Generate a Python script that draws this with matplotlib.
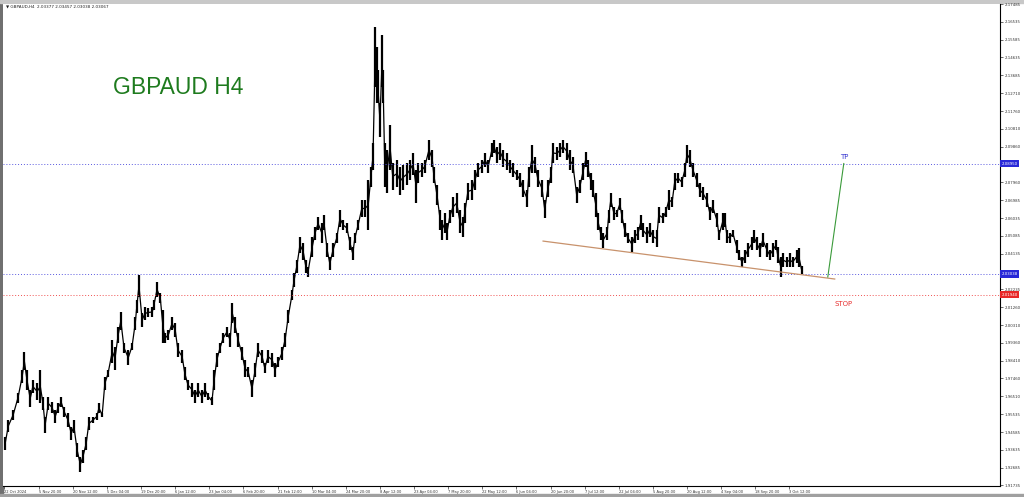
# GBPAUD H4 - MetaTrader style bar chart with trend line, TP and STOP levels
import matplotlib.pyplot as plt
from matplotlib.patches import Rectangle
import numpy as np

symbol = "GBPAUD H4"
header = "\u25bc GBPAUD,H4  2.03377 2.03457 2.03038 2.03067"

# H4 bar index of each sample (about one per trading day)
bars = [2, 8, 17, 26, 34, 38, 43, 49, 54, 62, 68, 73, 77, 83, 90, 96, 101, 107, 113, 120,
        126, 131, 137, 143, 148, 154, 159, 167, 174, 178, 184, 189, 195, 203, 208, 214, 219, 225, 233, 240,
        246, 249, 253, 259, 264, 270, 278, 281, 287, 293, 298, 302, 308, 315, 321, 326, 334, 339, 345, 353,
        358, 364, 371, 377, 383, 390, 394, 399, 405, 411, 418, 424, 428, 433, 439, 446, 452, 458, 465, 471,
        476, 484, 489, 495, 503, 508, 514, 521, 527, 533, 540, 544, 549, 555, 561, 566, 570, 578, 583, 589,
        596, 600, 606, 611, 617, 624, 630, 636, 643, 649, 654, 658, 664, 671, 677, 683, 688, 692, 696, 699,
        701, 705, 709, 711, 714, 718, 724, 729, 737, 743, 748, 756, 761, 767, 773, 776, 784, 789, 797, 803,
        806, 812, 818, 821, 827, 831, 836, 842, 849, 855, 861, 864, 870, 878, 883, 889, 896, 902, 908, 915,
        919, 924, 930, 936, 943, 949, 954, 962, 968, 973, 981, 984, 990, 996, 1001, 1009, 1014, 1020, 1026, 1029,
        1037, 1043, 1048, 1056, 1061, 1067, 1074, 1080, 1086, 1091, 1095, 1101, 1104, 1110, 1114, 1119, 1123, 1131, 1134, 1138,
        1144, 1149, 1155, 1159, 1164, 1170, 1178, 1183, 1189, 1194, 1198, 1206, 1211, 1217, 1224, 1228, 1236, 1241, 1247, 1253,
        1258, 1264, 1271, 1277, 1281, 1286, 1292, 1299, 1305, 1311, 1318, 1324, 1329, 1337, 1341, 1348, 1352, 1356, 1361, 1367,
        1374, 1378, 1384, 1389, 1395, 1403, 1406, 1412, 1418, 1423, 1431, 1436, 1442, 1448, 1451, 1457, 1461, 1468, 1474, 1479,
        1487, 1491, 1496]

highs = [1.9432, 1.9523, 1.9576, 1.9667, 1.9790, 1.9887, 1.9790, 1.9683, 1.9737, 1.9721,
         1.9790, 1.9646, 1.9539, 1.9646, 1.9619, 1.9576, 1.9614, 1.9646, 1.9592, 1.9560,
         1.9485, 1.9523, 1.9400, 1.9325, 1.9362, 1.9432, 1.9539, 1.9539, 1.9560, 1.9614,
         1.9560, 1.9753, 1.9790, 1.9951, 1.9913, 2.0020, 2.0101, 1.9935, 1.9897, 1.9935,
         2.0074, 2.0165, 2.0298, 2.0095, 2.0127, 2.0122, 2.0127, 2.0165, 2.0261, 2.0202,
         2.0111, 1.9988, 2.0004, 2.0074, 2.0042, 1.9935, 1.9897, 1.9806, 1.9737, 1.9721,
         1.9683, 1.9721, 1.9683, 1.9721, 1.9667, 1.9646, 1.9790, 1.9881, 1.9935, 1.9988,
         2.0020, 1.9988, 2.0149, 2.0074, 1.9988, 1.9913, 1.9844, 1.9806, 1.9737, 1.9828,
         1.9935, 1.9897, 1.9828, 1.9897, 1.9881, 1.9828, 1.9860, 1.9913, 1.9988, 2.0111,
         2.0218, 2.0309, 2.0379, 2.0502, 2.0470, 2.0379, 2.0341, 2.0502, 2.0555, 2.0609,
         2.0577, 2.0619, 2.0470, 2.0395, 2.0470, 2.0523, 2.0646, 2.0593, 2.0577, 2.0502,
         2.0448, 2.0523, 2.0593, 2.0700, 2.0700, 2.0807, 2.0876, 2.1005, 2.1625, 2.1518,
         2.1395, 2.1219, 2.1582, 2.1395, 2.1005, 2.0967, 2.1101, 2.0898, 2.0914, 2.0876,
         2.0887, 2.0898, 2.0914, 2.0951, 2.0860, 2.0898, 2.0898, 2.0914, 2.1021, 2.0967,
         2.0876, 2.0780, 2.0646, 2.0593, 2.0630, 2.0577, 2.0646, 2.0716, 2.0737, 2.0646,
         2.0609, 2.0684, 2.0791, 2.0807, 2.0860, 2.0898, 2.0914, 2.0951, 2.0914, 2.1005,
         2.1021, 2.0983, 2.1005, 2.0967, 2.0951, 2.0914, 2.0898, 2.0860, 2.0844, 2.0807,
         2.0753, 2.0876, 2.0994, 2.0930, 2.0860, 2.0807, 2.0700, 2.0807, 2.0876, 2.1005,
         2.0983, 2.1005, 2.1021, 2.1005, 2.0967, 2.0930, 2.0769, 2.0807, 2.0898, 2.0957,
         2.0914, 2.0844, 2.0807, 2.0737, 2.0630, 2.0555, 2.0523, 2.0555, 2.0646, 2.0737,
         2.0662, 2.0646, 2.0710, 2.0646, 2.0577, 2.0523, 2.0502, 2.0539, 2.0555, 2.0619,
         2.0577, 2.0555, 2.0577, 2.0539, 2.0539, 2.0662, 2.0630, 2.0662, 2.0753, 2.0716,
         2.0844, 2.0844, 2.0823, 2.0898, 2.0994, 2.0967, 2.0898, 2.0844, 2.0791, 2.0769,
         2.0737, 2.0662, 2.0700, 2.0630, 2.0539, 2.0630, 2.0630, 2.0539, 2.0523, 2.0539,
         2.0486, 2.0432, 2.0395, 2.0432, 2.0470, 2.0502, 2.0539, 2.0502, 2.0470, 2.0523,
         2.0470, 2.0432, 2.0470, 2.0486, 2.0448, 2.0395, 2.0416, 2.0395, 2.0416, 2.0395,
         2.0432, 2.0443, 2.0346]

lows = [1.9362, 1.9459, 1.9523, 1.9614, 1.9721, 1.9790, 1.9683, 1.9592, 1.9667, 1.9630,
        1.9614, 1.9576, 1.9453, 1.9576, 1.9560, 1.9507, 1.9560, 1.9592, 1.9539, 1.9485,
        1.9416, 1.9453, 1.9325, 1.9245, 1.9293, 1.9362, 1.9469, 1.9507, 1.9523, 1.9560,
        1.9539, 1.9683, 1.9753, 1.9828, 1.9790, 1.9935, 2.0004, 1.9881, 1.9817, 1.9897,
        2.0004, 2.0095, 2.0181, 2.0020, 2.0058, 2.0074, 2.0074, 2.0111, 2.0181, 2.0149,
        1.9935, 1.9935, 1.9951, 2.0004, 1.9967, 1.9860, 1.9828, 1.9737, 1.9683, 1.9646,
        1.9614, 1.9646, 1.9614, 1.9646, 1.9630, 1.9603, 1.9683, 1.9806, 1.9881, 1.9935,
        1.9967, 1.9913, 2.0042, 1.9988, 1.9913, 1.9844, 1.9753, 1.9753, 1.9646, 1.9753,
        1.9860, 1.9828, 1.9774, 1.9828, 1.9806, 1.9753, 1.9806, 1.9844, 1.9913, 2.0042,
        2.0165, 2.0234, 2.0309, 2.0416, 2.0379, 2.0309, 2.0288, 2.0395, 2.0486, 2.0539,
        2.0470, 2.0539, 2.0395, 2.0325, 2.0395, 2.0470, 2.0555, 2.0539, 2.0523, 2.0432,
        2.0379, 2.0470, 2.0539, 2.0609, 2.0609, 2.0539, 2.0769, 2.0860, 2.1304, 2.1219,
        2.1219, 2.1037, 2.1304, 2.1219, 2.0769, 2.0737, 2.0860, 2.0753, 2.0769, 2.0726,
        2.0753, 2.0780, 2.0807, 2.0833, 2.0684, 2.0791, 2.0823, 2.0844, 2.0914, 2.0876,
        2.0791, 2.0673, 2.0539, 2.0486, 2.0523, 2.0486, 2.0577, 2.0609, 2.0630, 2.0523,
        2.0502, 2.0577, 2.0700, 2.0700, 2.0753, 2.0823, 2.0844, 2.0876, 2.0844, 2.0930,
        2.0951, 2.0898, 2.0914, 2.0876, 2.0860, 2.0844, 2.0823, 2.0807, 2.0769, 2.0716,
        2.0662, 2.0769, 2.0844, 2.0844, 2.0769, 2.0716, 2.0603, 2.0716, 2.0791, 2.0898,
        2.0914, 2.0930, 2.0951, 2.0914, 2.0860, 2.0844, 2.0684, 2.0737, 2.0807, 2.0876,
        2.0823, 2.0753, 2.0716, 2.0609, 2.0539, 2.0486, 2.0443, 2.0486, 2.0577, 2.0662,
        2.0593, 2.0609, 2.0646, 2.0577, 2.0502, 2.0470, 2.0422, 2.0470, 2.0486, 2.0539,
        2.0502, 2.0470, 2.0502, 2.0470, 2.0448, 2.0577, 2.0577, 2.0609, 2.0646, 2.0662,
        2.0753, 2.0791, 2.0769, 2.0823, 2.0898, 2.0876, 2.0823, 2.0769, 2.0716, 2.0700,
        2.0662, 2.0593, 2.0630, 2.0555, 2.0486, 2.0539, 2.0555, 2.0470, 2.0470, 2.0502,
        2.0416, 2.0379, 2.0341, 2.0363, 2.0395, 2.0432, 2.0470, 2.0432, 2.0395, 2.0448,
        2.0395, 2.0379, 2.0395, 2.0432, 2.0363, 2.0288, 2.0341, 2.0341, 2.0341, 2.0341,
        2.0363, 2.0341, 2.0304]

# levels and drawn objects
tp_level = 2.08950
entry_level = 2.03038
stop_level = 2.01940
trend_bars = [1011, 1558]
trend_prices = [2.0480, 2.0277]
target_bars = [1545, 1575]
target_prices = [2.0288, 2.0895]

# axis labels
date_ticks = [0] + [65 + 64 * k for k in range(23)]
date_labels = ["22 Oct 2024", "5 Nov 20:00", "20 Nov 12:00", "5 Dec 04:00", "19 Dec 20:00",
               "6 Jan 12:00", "23 Jan 04:00", "6 Feb 20:00", "21 Feb 12:00", "10 Mar 04:00",
               "24 Mar 20:00", "8 Apr 12:00", "23 Apr 04:00", "7 May 20:00", "22 May 12:00",
               "6 Jun 04:00", "20 Jun 20:00", "7 Jul 12:00", "22 Jul 04:00", "5 Aug 20:00",
               "20 Aug 12:00", "4 Sep 04:00", "18 Sep 20:00", "3 Oct 12:00"]
price_ticks = [2.17485, 2.16535, 2.15585, 2.14635, 2.13685, 2.12710, 2.11760, 2.10810,
               2.09860, 2.07960, 2.06985, 2.06035, 2.05085, 2.04135, 2.02235, 2.01260,
               2.00310, 1.99360, 1.98410, 1.97460, 1.96510, 1.95535, 1.94585, 1.93635,
               1.92685, 1.91735]

W, H = 1024, 497
fig = plt.figure(figsize=(W / 100, H / 100), dpi=100)
ax = fig.add_axes([3 / W, 11 / H, 997 / W, 482 / H])

bars_a = np.array(bars)
highs_a = np.array(highs)
lows_a = np.array(lows)

# price bars
ax.vlines(bars_a, lows_a, highs_a, color='black', lw=1.6)
ax.plot(bars_a, (highs_a + lows_a) / 2, color='black', lw=0.9)

# horizontal levels
blue = '#5a5ae0'
red = '#f05050'
ax.axhline(tp_level, color=blue, lw=0.7, ls=(0, (1, 2)))
ax.axhline(entry_level, color=blue, lw=0.7, ls=(0, (1, 2)))
ax.axhline(stop_level, color=red, lw=0.7, ls=(0, (1, 2)))

# trend line and target line
ax.plot(trend_bars, trend_prices, color='#c8926c', lw=0.9)
ax.plot(target_bars, target_prices, color='#3a9a3a', lw=0.8)

ax.annotate('TP', xy=(target_bars[1], tp_level), xytext=(0, 2.5), textcoords='offset points',
            ha='center', va='bottom', color='#3838d0', fontsize=5)
ax.annotate('STOP', xy=(target_bars[1], stop_level), xytext=(0, -4.5), textcoords='offset points',
            ha='center', va='top', color='#e83030', fontsize=5)

ax.set_xlim(-2, 1868)
ax.set_ylim(1.91696, 2.17483)

# axes styling like the terminal
for side in ['left', 'top']:
    ax.spines[side].set_visible(False)
for side in ['right', 'bottom']:
    ax.spines[side].set_linewidth(0.8)
ax.yaxis.tick_right()
ax.set_yticks(price_ticks, labels=[f"{p:.5f}" for p in price_ticks])
ax.tick_params(axis='y', length=2, width=0.5, labelsize=2.8, pad=1.5, colors='#333333')
ax.set_xticks(date_ticks, labels=date_labels)
ax.tick_params(axis='x', length=2, width=0.5, labelsize=2.6, pad=0.8, colors='#333333')
for lbl in ax.get_xticklabels():
    lbl.set_ha('left')

# level price boxes on the right scale
for level, col in [(tp_level, '#2828d8'), (entry_level, '#2828d8'), (stop_level, '#e82828')]:
    ax.text(1.0015, level, f"{level:.5f}", transform=ax.get_yaxis_transform(), fontsize=2.8,
            color='white', va='center', ha='left', clip_on=False, zorder=5,
            bbox=dict(boxstyle='square,pad=0.45', fc=col, ec='none'))

# header and big symbol name
fig.text(6 / W, 1 - 7 / H, header, fontsize=3, va='center', ha='left', color='#222222')
fig.text(113 / W, 1 - 88 / H, symbol, fontsize=16.5, va='center', ha='left',
         color='#1e7b1e', family='Liberation Sans')

# window borders, kept below the axes
for rect in [Rectangle((0, 0), 3 / W, 1, color='#707070'),
             Rectangle((0, 1 - 3 / H), 1, 3 / H, color='#c8c8c8'),
             Rectangle((0, 0), 1, 3 / H, color='#a0a0a0')]:
    rect.set_transform(fig.transFigure)
    rect.set_zorder(-1)
    fig.patches.append(rect)

fig.savefig('out.png', dpi=100)
